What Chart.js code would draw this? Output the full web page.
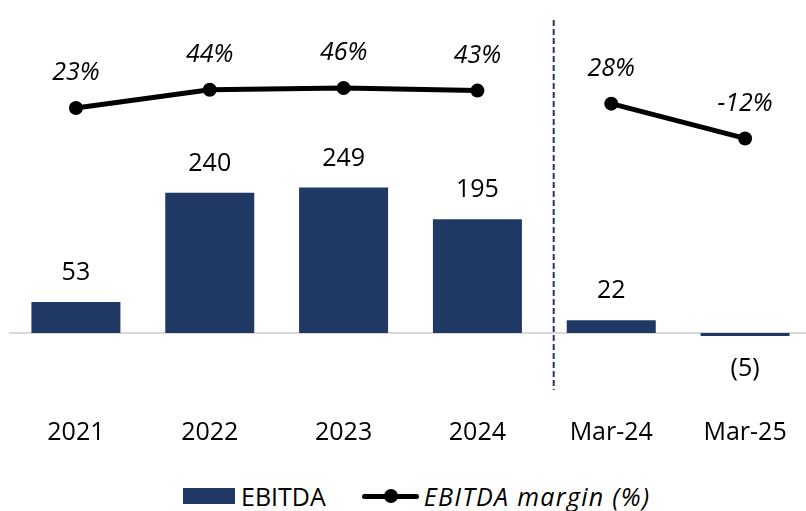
<!DOCTYPE html>
<html>
<head>
<meta charset="utf-8">
<script src="https://cdn.jsdelivr.net/npm/chart.js@4"></script>
<style>
  html, body { margin: 0; padding: 0; background: #fff; overflow: hidden; }
  #wrap { position: relative; width: 806px; height: 511px; overflow: hidden; }
  #c { position: absolute; left: 0; top: 0; }
  .legend { position: absolute; top: 479px; left: 183px; height: 34px; display: flex; align-items: center;
    font-family: 'Open Sans', sans-serif; font-size: 25px; color: #000; white-space: nowrap; }
  .sw-bar { width: 52px; height: 16px; background: #203864; margin-right: 6px; }
  .sw-line { position: relative; width: 57px; height: 14px; margin-left: 36px; margin-right: 5px; }
  .sw-line::before { content: ''; position: absolute; left: 0; right: 0; top: 5px; height: 5px; background: #000; border-radius: 3px; }
  .sw-line::after { content: ''; position: absolute; left: 22px; top: 0; width: 14px; height: 14px; background: #000; border-radius: 50%; }
  .it { font-style: italic; letter-spacing: 1.3px; }
</style>
</head>
<body>
<div id="wrap">
  <canvas id="c"></canvas>
  <div class="legend">
    <span class="sw-bar"></span><span>EBITDA</span>
    <span class="sw-line"></span><span class="it">EBITDA margin (%)</span>
  </div>
</div>
<script>
// EBITDA (barre) e margine EBITDA in % (linea), anni + trimestri a marzo
const CATEGORIES = ['2021', '2022', '2023', '2024', 'Mar-24', 'Mar-25'];
const EBITDA = [53, 240, 249, 195, 22, -5];
const MARGIN = [23, 44, 46, 43, 28, -12];
const GAP_AFTER = 3;      // niente segmento fra 2024 e Mar-24
const DIVIDER_AT = 3.57;  // linea tratteggiata fra anni e trimestri

const NAVY = '#203864';
const FONT = "'Open Sans', sans-serif";

const fmtBar = (v) => (v < 0 ? `(${-v})` : `${v}`);

// Etichette dati, linea dello zero e separatore tratteggiato
const extrasPlugin = {
  id: 'extras',
  beforeDatasetsDraw(chart) {
    const { ctx, chartArea, scales } = chart;
    const y0 = scales.y.getPixelForValue(0);
    ctx.save();
    ctx.strokeStyle = '#d9d9d9';
    ctx.lineWidth = 2;
    ctx.beginPath();
    ctx.moveTo(chartArea.left, y0);
    ctx.lineTo(chartArea.right, y0);
    ctx.stroke();

    const xa = scales.x.getPixelForValue(Math.floor(DIVIDER_AT));
    const xb = scales.x.getPixelForValue(Math.ceil(DIVIDER_AT));
    const xd = xa + (xb - xa) * (DIVIDER_AT - Math.floor(DIVIDER_AT));
    ctx.strokeStyle = NAVY;
    ctx.lineWidth = 2;
    ctx.setLineDash([6, 3]);
    ctx.beginPath();
    ctx.moveTo(xd, chartArea.top + 20);
    ctx.lineTo(xd, chartArea.top + 390);
    ctx.stroke();
    ctx.restore();
  },
  afterDatasetsDraw(chart) {
    const { ctx } = chart;
    const metaOf = (type) => chart.data.datasets
      .map((d, i) => chart.getDatasetMeta(i))
      .find((m) => m.type === type);
    ctx.save();
    ctx.fillStyle = '#000';
    ctx.textAlign = 'center';
    ctx.textBaseline = 'middle';

    ctx.font = `25px ${FONT}`;
    metaOf('bar').data.forEach((bar, i) => {
      const v = EBITDA[i];
      const y = v >= 0 ? bar.y - 29 : bar.y + 33;
      ctx.fillText(fmtBar(v), bar.x, y);
    });

    ctx.font = `italic 25px ${FONT}`;
    metaOf('line').data.forEach((pt, i) => {
      ctx.fillText(`${MARGIN[i]}%`, pt.x, pt.y - 35);
    });
    ctx.restore();
  },
};

const canvas = document.getElementById('c');
canvas.width = 812;
canvas.height = 470;
canvas.style.width = '812px';
canvas.style.height = '470px';

new Chart(canvas, {
  data: {
    labels: CATEGORIES,
    datasets: [
      {
        type: 'line',
        label: 'EBITDA margin (%)',
        data: MARGIN,
        yAxisID: 'y1',
        borderColor: '#000',
        backgroundColor: '#000',
        borderWidth: 5,
        pointRadius: 7,
        pointHoverRadius: 7,
        pointBackgroundColor: '#000',
        pointBorderWidth: 0,
        tension: 0,
        order: 0,
        segment: {
          borderColor: (c) => (c.p0DataIndex === GAP_AFTER ? 'rgba(0,0,0,0)' : '#000'),
        },
      },
      {
        type: 'bar',
        label: 'EBITDA',
        data: EBITDA,
        yAxisID: 'y',
        backgroundColor: NAVY,
        barPercentage: 0.665,
        categoryPercentage: 1,
        order: 1,
      },
    ],
  },
  options: {
    responsive: false,
    animation: false,
    layout: { autoPadding: false, padding: { left: 9, right: 0, top: 0, bottom: 0 } },
    scales: {
      x: {
        offset: true,
        grid: { display: false, drawTicks: false },
        border: { display: false },
        ticks: { color: '#000', font: { family: FONT, size: 25 }, padding: 18, maxRotation: 0 },
        afterFit: (s) => { s.height = 70; },
      },
      y: { display: false, min: -114.7, max: 570.2 },
      y1: { display: false, min: -312.6, max: 147.1 },
    },
    plugins: {
      legend: { display: false },
      tooltip: { enabled: false },
    },
  },
  plugins: [extrasPlugin],
});
</script>
</body>
</html>
